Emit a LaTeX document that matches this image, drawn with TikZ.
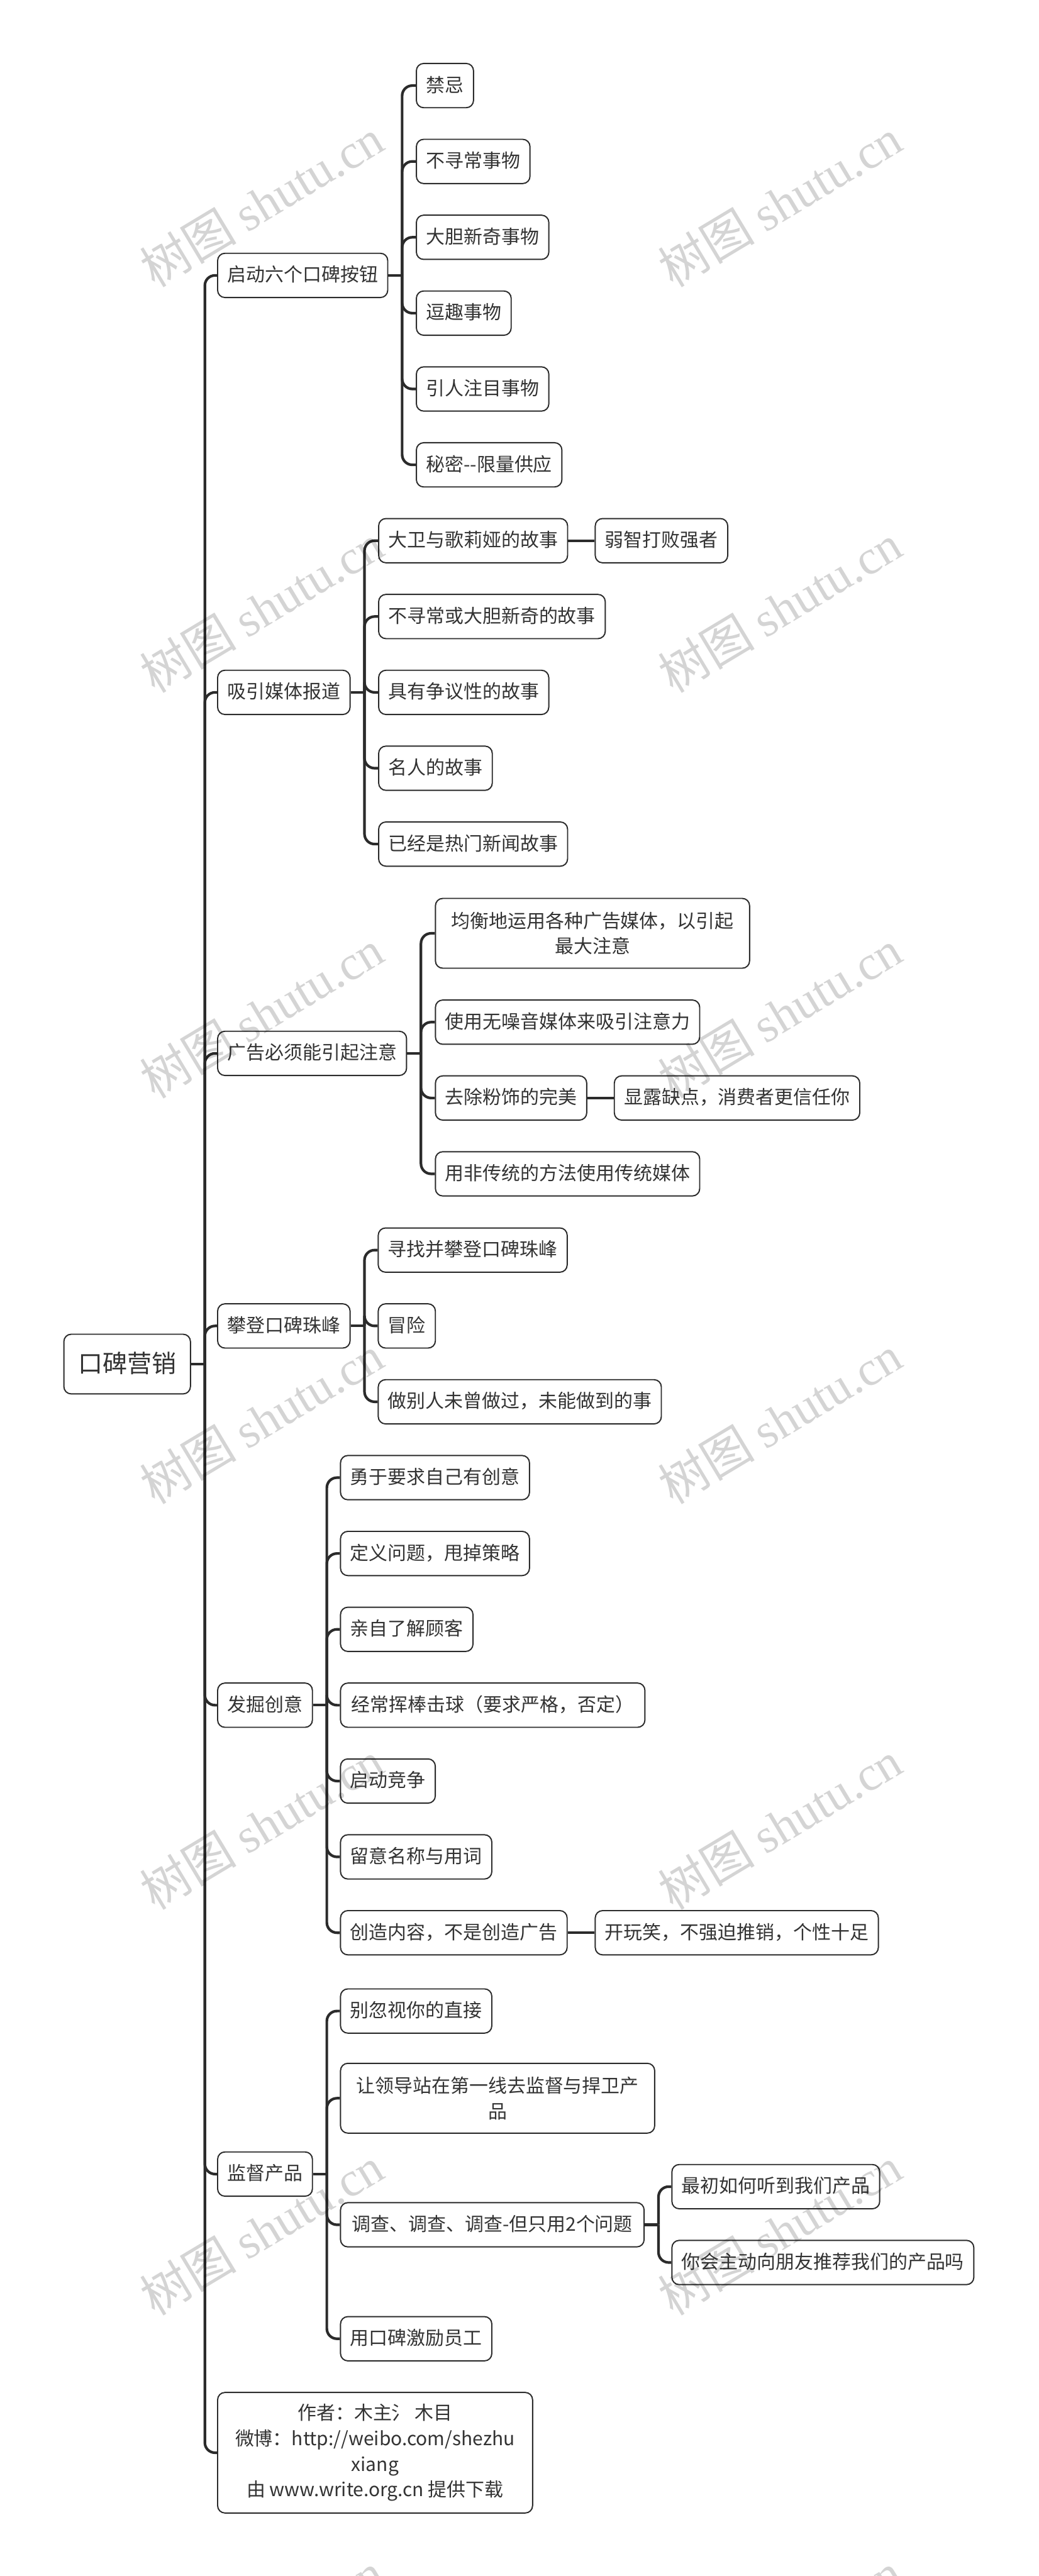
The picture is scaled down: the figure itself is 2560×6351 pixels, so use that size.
\documentclass[tikz,border=0pt]{standalone}
\usepackage{fontspec}
\setmainfont{Noto Sans CJK SC}
\newfontfamily\markserif{Liberation Serif}
\definecolor{inkgray}{HTML}{333333}
\definecolor{linegray}{HTML}{2B2B2B}
\tikzset{
    mapbox/.style={draw=linegray, line width=0.03cm, rounded corners=0.18cm, fill=white, anchor=west,
        text=inkgray, inner xsep=0.24cm, inner ysep=0cm, minimum height=1.09cm,
        font=\fontsize{13.2}{17.9}\selectfont},
    leaf/.style={mapbox, text height=0.38cm, text depth=0.07cm},
    note/.style={mapbox, align=center},
    stub/.style={draw=linegray, line width=0.065cm},
    branch/.style={stub, rounded corners=0.25cm},
    wmark/.style={rotate=31, text=black, text opacity=0.17, inner sep=0pt}
}
\begin{document}
\begin{tikzpicture}[x=0.01cm, y=-0.01cm]
    \useasboundingbox (0,0) rectangle (2560,6351);

    % root
    \node[leaf, inner xsep=0.35cm, minimum height=1.47cm, text height=0.5cm, text depth=0.09cm, font=\fontsize{17.2}{22}\selectfont] (koubei) at (156,3363) {口碑营销};

    % first level
    \node[leaf] (qidong) at (535,679) {启动六个口碑按钮};
    \node[leaf] (meiti) at (535,1707) {吸引媒体报道};
    \node[leaf] (guanggao) at (535,2597) {广告必须能引起注意};
    \node[leaf] (pandeng) at (535,3269) {攀登口碑珠峰};
    \node[leaf] (chuangyi) at (535,4204) {发掘创意};
    \node[leaf] (jiandu) at (535,5360) {监督产品};
    \node[note, minimum height=2.97cm, minimum width=7.76cm] (zuozhe) at (535,6047) {作者：木主氵 木目\\微博：http://weibo.com/shezhu\\xiang\\由 www.write.org.cn 提供下载};

    % buttons
    \node[leaf] (jinji) at (1025,211) {禁忌};
    \node[leaf] (xunchang) at (1025,398) {不寻常事物};
    \node[leaf] (dadan) at (1025,585) {大胆新奇事物};
    \node[leaf] (douqu) at (1025,772) {逗趣事物};
    \node[leaf] (yinren) at (1025,959) {引人注目事物};
    \node[leaf] (mimi) at (1025,1146) {秘密{-}{-}限量供应};

    % media
    \node[leaf] (dawei) at (932,1333) {大卫与歌莉娅的故事};
    \node[leaf] (ruozhi) at (1466,1333) {弱智打败强者};
    \node[leaf] (dadangushi) at (932,1520) {不寻常或大胆新奇的故事};
    \node[leaf] (zhengyi) at (932,1707) {具有争议性的故事};
    \node[leaf] (mingren) at (932,1894) {名人的故事};
    \node[leaf] (remen) at (932,2081) {已经是热门新闻故事};

    % ads
    \node[note, minimum height=1.72cm, minimum width=7.74cm] (junheng) at (1072,2301) {均衡地运用各种广告媒体，以引起\\最大注意};
    \node[leaf] (wuzao) at (1072,2520) {使用无噪音媒体来吸引注意力};
    \node[leaf] (fenshi) at (1072,2707) {去除粉饰的完美};
    \node[leaf] (quedian) at (1513,2707) {显露缺点，消费者更信任你};
    \node[leaf] (feichuantong) at (1072,2894) {用非传统的方法使用传统媒体};

    % summit
    \node[leaf] (xunzhao) at (931,3082) {寻找并攀登口碑珠峰};
    \node[leaf] (maoxian) at (931,3269) {冒险};
    \node[leaf] (biede) at (931,3456) {做别人未曾做过，未能做到的事};

    % ideas
    \node[leaf] (yongyu) at (838,3643) {勇于要求自己有创意};
    \node[leaf] (dingyi) at (838,3830) {定义问题，甩掉策略};
    \node[leaf] (qinzi) at (838,4017) {亲自了解顾客};
    \node[leaf, minimum width=7.5cm] (huibang) at (838,4204) {经常挥棒击球（要求严格，否定）};
    \node[leaf] (jingzheng) at (838,4391) {启动竞争};
    \node[leaf] (mingcheng) at (838,4578) {留意名称与用词};
    \node[leaf] (neirong) at (838,4765) {创造内容，不是创造广告};
    \node[leaf] (kaiwanxiao) at (1466,4765) {开玩笑，不强迫推销，个性十足};

    % product
    \node[leaf] (huoshi) at (838,4958) {别忽视你的直接};
    \node[note, minimum height=1.72cm, minimum width=7.74cm] (lingdao) at (838,5173) {让领导站在第一线去监督与捍卫产\\品};
    \node[leaf, minimum width=7.48cm] (diaocha) at (838,5485) {调查、调查、调查-但只用2个问题};
    \node[leaf] (zuichu) at (1655,5391) {最初如何听到我们产品};
    \node[leaf] (tuijian) at (1655,5578) {你会主动向朋友推荐我们的产品吗};
    \node[leaf] (jili) at (838,5766) {用口碑激励员工};

    % connectors
    \draw[stub] (koubei.east) -- ++(34,0);
    \foreach \kid in {qidong,meiti,guanggao,pandeng,chuangyi,jiandu,zuozhe}
        \draw[branch] (koubei.east) ++(34,0) |- (\kid.west);

    \draw[stub] (qidong.east) -- ++(34,0);
    \foreach \kid in {jinji,xunchang,dadan,douqu,yinren,mimi}
        \draw[branch] (qidong.east) ++(34,0) |- (\kid.west);

    \draw[stub] (meiti.east) -- ++(34,0);
    \foreach \kid in {dawei,dadangushi,zhengyi,mingren,remen}
        \draw[branch] (meiti.east) ++(34,0) |- (\kid.west);
    \draw[stub] (dawei) -- (ruozhi);

    \draw[stub] (guanggao.east) -- ++(34,0);
    \foreach \kid in {junheng,wuzao,fenshi,feichuantong}
        \draw[branch] (guanggao.east) ++(34,0) |- (\kid.west);
    \draw[stub] (fenshi) -- (quedian);

    \draw[stub] (pandeng.east) -- ++(34,0);
    \foreach \kid in {xunzhao,maoxian,biede}
        \draw[branch] (pandeng.east) ++(34,0) |- (\kid.west);

    \draw[stub] (chuangyi.east) -- ++(34,0);
    \foreach \kid in {yongyu,dingyi,qinzi,huibang,jingzheng,mingcheng,neirong}
        \draw[branch] (chuangyi.east) ++(34,0) |- (\kid.west);
    \draw[stub] (neirong) -- (kaiwanxiao);

    \draw[stub] (jiandu.east) -- ++(34,0);
    \foreach \kid in {huoshi,lingdao,diaocha,jili}
        \draw[branch] (jiandu.east) ++(34,0) |- (\kid.west);

    \draw[stub] (diaocha.east) -- ++(34,0);
    \foreach \kid in {zuichu,tuijian}
        \draw[branch] (diaocha.east) ++(34,0) |- (\kid.west);

    % watermark
    \foreach \wx in {645,1923}
        \foreach \wy in {500,1500,2500,3500,4500,5500,6500}
            \node[wmark, font=\fontsize{34}{34}\selectfont] (mark\wx-\wy) at (\wx,\wy) {树图 {\markserif shutu.cn}};
\end{tikzpicture}
\end{document}
